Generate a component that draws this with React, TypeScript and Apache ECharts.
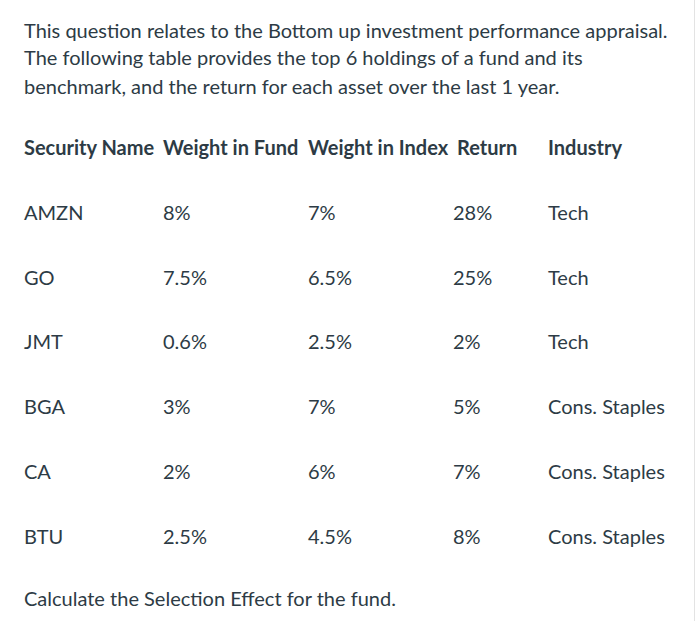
import React, { useEffect, useRef } from "react";
import * as echarts from "echarts";

const introLines = [
  "This question relates to the Bottom up investment performance appraisal.",
  "The following table provides the top 6 holdings of a fund and its",
  "benchmark, and the return for each asset over the last 1 year.",
];
const headers = ["Security Name", "Weight in Fund", "Weight in Index", "Return", "Industry"];
const securities = ["AMZN", "GO", "JMT", "BGA", "CA", "BTU"];
const weightFund = ["8%", "7.5%", "0.6%", "3%", "2%", "2.5%"];
const weightIndex = ["7%", "6.5%", "2.5%", "7%", "6%", "4.5%"];
const returns = ["28%", "25%", "2%", "5%", "7%", "8%"];
const industries = ["Tech", "Tech", "Tech", "Cons. Staples", "Cons. Staples", "Cons. Staples"];
const question = "Calculate the Selection Effect for the fund.";

export default function App() {
  const ref = useRef<HTMLDivElement>(null);
  useEffect(() => {
    if (!ref.current) return;
    const chart = echarts.init(ref.current, null, { renderer: "svg" });
    const color = "#2d3b45";
    const font = "Lato";
    const size = 20;
    const els: any[] = [];
    const introY = [30, 57, 86];
    introLines.forEach((t, i) =>
      els.push({
        type: "text",
        x: 24,
        y: introY[i],
        style: { text: t, fill: color, font: `${size}px ${font}`, textVerticalAlign: "middle" },
      })
    );
    const headerX = [24, 163, 308, 457, 548];
    headers.forEach((h, i) =>
      els.push({
        type: "text",
        x: headerX[i],
        y: 147,
        style: {
          text: h,
          fill: color,
          font: `bold ${size}px ${font}`,
          textVerticalAlign: "middle",
        },
      })
    );
    const rowY0 = 212;
    const rowStep = 64.7;
    const colX = [24, 163, 308, 453, 548];
    securities.forEach((s, r) => {
      const y = rowY0 + r * rowStep;
      const cells = [s, weightFund[r], weightIndex[r], returns[r], industries[r]];
      cells.forEach((t, c) =>
        els.push({
          type: "text",
          x: colX[c],
          y,
          style: {
            text: t,
            fill: color,
            font: `${size}px ${font}`,
            textVerticalAlign: "middle",
          },
        })
      );
    });
    els.push({
      type: "text",
      x: 24,
      y: 598,
      style: { text: question, fill: color, font: `${size}px ${font}`, textVerticalAlign: "middle" },
    });
    els.push({
      type: "line",
      shape: { x1: 694.5, y1: 0, x2: 694.5, y2: 621 },
      style: { stroke: "#e3e3e3", lineWidth: 1 },
    });
    chart.setOption({
      animation: false,
      backgroundColor: "#ffffff",
      graphic: { elements: els },
    });
    return () => chart.dispose();
  }, []);
  return (
    <div
      ref={ref}
      style={{ width: 700, height: 621, position: "absolute", left: 0, top: 0 }}
    />
  );
}
